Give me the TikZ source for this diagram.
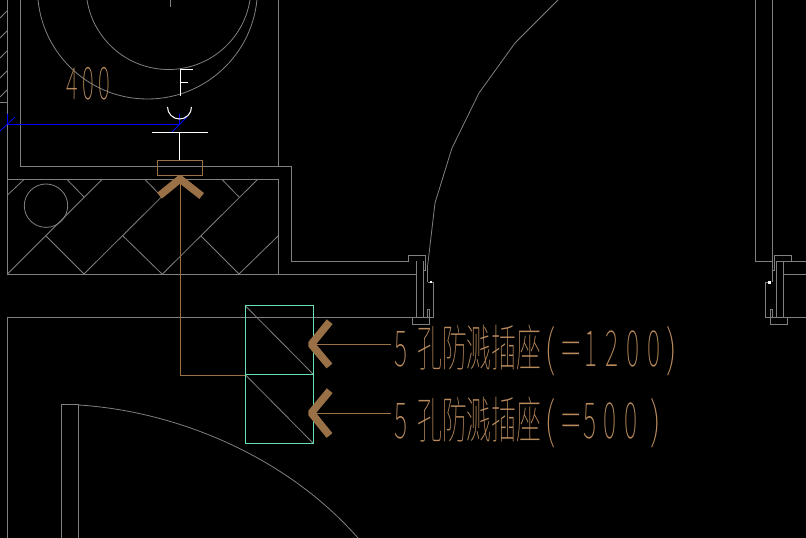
\documentclass[tikz,border=0pt]{standalone}
\usepackage{fontspec}
\usepackage{graphicx}
\newfontfamily\cadfont{Noto Sans CJK SC Thin}
\definecolor{wall}{HTML}{808080}
\definecolor{cadbrown}{HTML}{B88A5C}
\definecolor{marker}{HTML}{9A7047}
\definecolor{socket}{HTML}{66E0B4}
\definecolor{wire}{HTML}{0000FF}
\tikzset{
 wallline/.style={draw=wall,line width=1bp},
 thinline/.style={draw=wall,line width=.8bp},
 whiteline/.style={draw=white,line width=1bp},
 brownline/.style={draw=marker,line width=1bp},
 socketline/.style={draw=socket,line width=1.2bp},
 chevron/.style={draw=marker,line width=7.5bp,line join=bevel},
 cadtext/.style={inner sep=0pt,anchor=base west,text=cadbrown},
}
\newcommand{\cadlabel}[2]{\scalebox{.5}[1]{\cadfont\fontsize{#1}{#1}\selectfont #2}}
\newcommand{\gp}[1]{\kern #1pt\relax}
\newcommand{\wideglyph}[1]{\scalebox{1.5}[1]{#1}}
\begin{document}
\begin{tikzpicture}[x=1bp,y=-1bp]
\useasboundingbox[fill=black] (0,0) rectangle (806,538);
\begin{scope}
\clip (0,0) rectangle (806,538);
% circles
\draw[thinline] (147.5,-11) circle (110);
\draw[thinline] (168.5,-13) circle (82.5);
\draw[thinline] (46,205.7) circle (21.7);
\draw[thinline] (170,0) -- (170,7);
% hatch ticks at left
\foreach \yy in {18,38,58,78,97} \draw[thinline] (0,\yy) -- (7,\yy-7);
\draw[thinline] (0,102) -- (7,102);
% walls
\draw[wallline] (7.5,0) -- (7.5,274);
\draw[wallline] (20.5,0) -- (20.5,166.5) -- (291.5,166.5) -- (291.5,261.5) -- (408.5,261.5);
\draw[wallline] (278.5,0) -- (278.5,166.5);
\draw[wallline] (7.5,179.5) -- (278.5,179.5) -- (278.5,274.5) -- (7.5,274.5) -- cycle;
\draw[wallline] (7.5,538) -- (7.5,317.5) -- (433.5,317.5) -- (433.5,282.5) -- (428,282.5);
\draw[wallline] (278.5,274.5) -- (416.5,274.5);
% floor hatch
\foreach \a/\b in {7.5/102,84/179,162.5/257.5} \draw[thinline] (\a,274) -- (\b,179.5);
\draw[thinline] (7.5,195) -- (24,179.5);
\draw[thinline] (239,274) -- (278,236);
\foreach \a/\b/\c in {46/84/236,123/162/236,201/239/236} \draw[thinline] (\a,\c) -- (\b,274);
\foreach \a/\b in {67/84,145/162,222/239} \draw[thinline] (\a,179.5) -- (\b,197);
% left door
\draw[wallline] (408.5,261.5) -- (408.5,255.5) -- (425.5,255.5) -- (425.5,270.5) -- (423.5,270.5);
\draw[wallline] (416.5,261.5) -- (416.5,317.5);
\draw[wallline] (423.5,261.5) -- (423.5,317.5);
\draw[wallline] (412.5,317.5) -- (412.5,324.5) -- (429.5,324.5) -- (429.5,309.5) -- (427.5,309.5) -- (427.5,317.5);
\draw[wallline] (427.7,282) -- (427.7,265);
\draw[thinline] (427.7,265) -- (435,203) -- (452,148) -- (479,93) -- (515,43) -- (558,0);
\fill[white] (430,281) rectangle (432,283);
% right door
\draw[wallline] (755.5,0) -- (755.5,261.5) -- (772.5,261.5);
\draw[wallline] (772.5,0) -- (772.5,282);
\draw[wallline] (772.5,270.5) -- (774.5,270.5) -- (774.5,255.5) -- (791.5,255.5) -- (791.5,261.5);
\draw[wallline] (776.5,261.5) -- (806,261.5);
\draw[wallline] (776.5,261.5) -- (776.5,317.5);
\draw[wallline] (783.5,261.5) -- (783.5,317.5);
\draw[wallline] (783.5,274.5) -- (806,274.5);
\draw[wallline] (765.5,282.5) -- (765.5,317.5) -- (806,317.5);
\draw[wallline] (765.5,282.5) -- (768,282.5);
\fill[white] (768,281) rectangle (771,284);
\draw[wallline] (772.5,317.5) -- (772.5,309.5) -- (770.5,309.5) -- (770.5,324.5) -- (787.5,324.5) -- (787.5,317.5);
% lower door
\draw[wallline] (61.5,538) -- (61.5,404.5) -- (78.5,404.5) -- (78.5,538);
\draw[wallline,line width=1.4bp] (61.5,404.5) -- (78.5,404.5);
\draw[thinline] (78.5,405) .. controls (175,411) and (285,455) .. (358,538);
% socket
\draw[thinline] (245,305.5) -- (313.5,374.5);
\draw[thinline] (245,374.5) -- (313.5,443.5);
\draw[socketline] (245.5,305.5) -- (313.5,305.5) -- (313.5,443.5) -- (245.5,443.5) -- cycle;
\draw[socketline] (245.5,374.5) -- (313.5,374.5);
% blue
\draw[draw=wire,line width=1.3bp] (7.5,124.5) -- (180,124.5);
\draw[draw=wire,line width=.8bp] (0,131) -- (15,117) (7.5,114) -- (7.5,124.5);
\draw[draw=wire,line width=.8bp] (172,132) -- (187,117) (179.5,114) -- (179.5,124.5);
% white symbols
\draw[whiteline] (180.5,96) -- (180.5,69.5) -- (193,69.5) (180.5,82.5) -- (188,82.5);
\draw[whiteline] (167.5,107) arc[start angle=180,end angle=0,radius=12];
\draw[whiteline] (152,132.5) -- (208,132.5) (179.5,132.5) -- (179.5,160);
% brown
\draw[brownline] (157.5,160.5) -- (202.5,160.5) -- (202.5,175.5) -- (157.5,175.5) -- cycle;
\draw[brownline] (180.5,178) -- (180.5,375.5) -- (245,375.5);
\draw[chevron] (159.5,195.7) -- (180,179) -- (201.7,196);
\draw[chevron] (329.7,321.7) -- (311.3,344.3) -- (329.5,366);
\draw[chevron] (329.7,390.7) -- (311.3,413) -- (329.5,435.5);
\draw[brownline] (313,344.5) -- (391,344.5);
\draw[brownline] (313,413.5) -- (391,413.5);
% texts
\node[cadtext] (t400) at (66,100) {\cadlabel{45}{4\gp{9}0\gp{9}0}};
\node[cadtext] (t1200) at (394,366) {\cadlabel{50}{5\gp{20}孔防溅插座\gp{6}\wideglyph{(}\gp{12}\wideglyph{=}\gp{6}1\gp{16}2\gp{16}0\gp{16}0\gp{12}\wideglyph{)}}};
\node[cadtext] (t500) at (394,438) {\cadlabel{50}{5\gp{20}孔防溅插座\gp{6}\wideglyph{(}\gp{12}\wideglyph{=}\gp{4}5\gp{14}0\gp{16}0\gp{26}\wideglyph{)}}};
\end{scope}
\end{tikzpicture}
\end{document}
